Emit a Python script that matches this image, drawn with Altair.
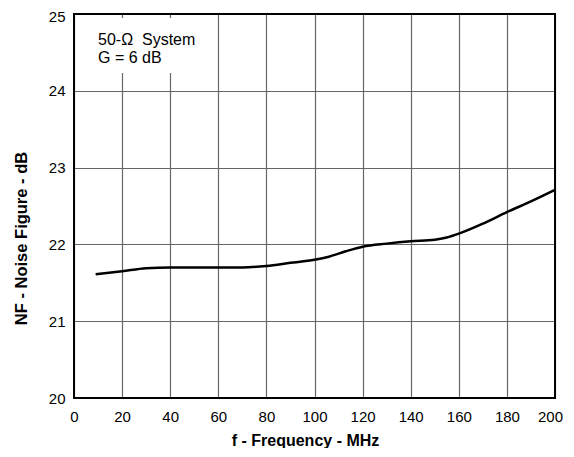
import altair as alt
import pandas as pd

freq = [9, 20, 30, 40, 50, 60, 70, 80, 90, 100, 106, 113, 120, 130, 140, 150, 155, 160, 170, 180, 190, 200]
nf = [21.61, 21.65, 21.69, 21.70, 21.70, 21.70, 21.70, 21.72, 21.76, 21.80, 21.84, 21.91, 21.97, 22.01, 22.04, 22.06, 22.09, 22.14, 22.27, 22.42, 22.56, 22.71]
x_ticks = list(range(0, 201, 20))
y_ticks = [20, 21, 22, 23, 24, 25]
note_lines = ["50-\u03a9\u00a0\u00a0System", "G = 6 dB"]

df = pd.DataFrame({"f": freq, "nf": nf})

W, H = 481, 384
FONT = "Liberation Sans"
common = dict(grid=True, tickSize=0, domain=False, labelFlush=False,
              gridColor="#666666", gridWidth=1.2, gridOpacity=1,
              labelFont=FONT, labelFontSize=15, labelColor="black",
              titleFont=FONT, titleFontWeight="bold", titleColor="black")

x = alt.X("f:Q", scale=alt.Scale(domain=[0, 200], nice=False),
          axis=alt.Axis(values=x_ticks, title="f - Frequency - MHz",
                        labelPadding=11, titlePadding=8, titleFontSize=16,
                        titleX=231,
                        labelOffset={"condition": {"test": "datum.value == 200", "value": -5}, "value": 0},
                        **common))
y = alt.Y("nf:Q", scale=alt.Scale(domain=[20, 25], nice=False, zero=False),
          axis=alt.Axis(values=y_ticks, title="NF - Noise Figure - dB",
                        labelPadding=9, titlePadding=19, titleFontSize=16.5,
                        titleY=224,
                        labelOffset={"condition": {"test": "datum.value == 25", "value": 2}, "value": 0},
                        **common))

line = alt.Chart(df).mark_line(color="black", strokeWidth=2.5, interpolate="monotone").encode(x=x, y=y)

box = alt.Chart(pd.DataFrame({"a": [0]})).mark_rect(color="white").encode(
    x=alt.value(2), x2=alt.value(126), y=alt.value(4), y2=alt.value(59))

note = alt.Chart(pd.DataFrame({"t": [note_lines]})).mark_text(
    align="left", baseline="alphabetic", font=FONT, fontSize=16, lineHeight=18, color="black"
).encode(x=alt.value(24), y=alt.value(31), text="t:N")

frame = alt.Chart(pd.DataFrame({"a": [0]})).mark_rect(fill=None, stroke="black", strokeWidth=2).encode(
    x=alt.value(0), x2=alt.value(W), y=alt.value(0), y2=alt.value(H))

chart = alt.layer(line, box, note, frame).properties(
    width=W, height=H,
    autosize=alt.AutoSizeParams(type="none"),
    padding={"left": 66, "top": 6, "right": 10, "bottom": 50},
).configure_view(stroke=None)

chart.save("out.html", embed_options={"renderer": "svg", "actions": False})
